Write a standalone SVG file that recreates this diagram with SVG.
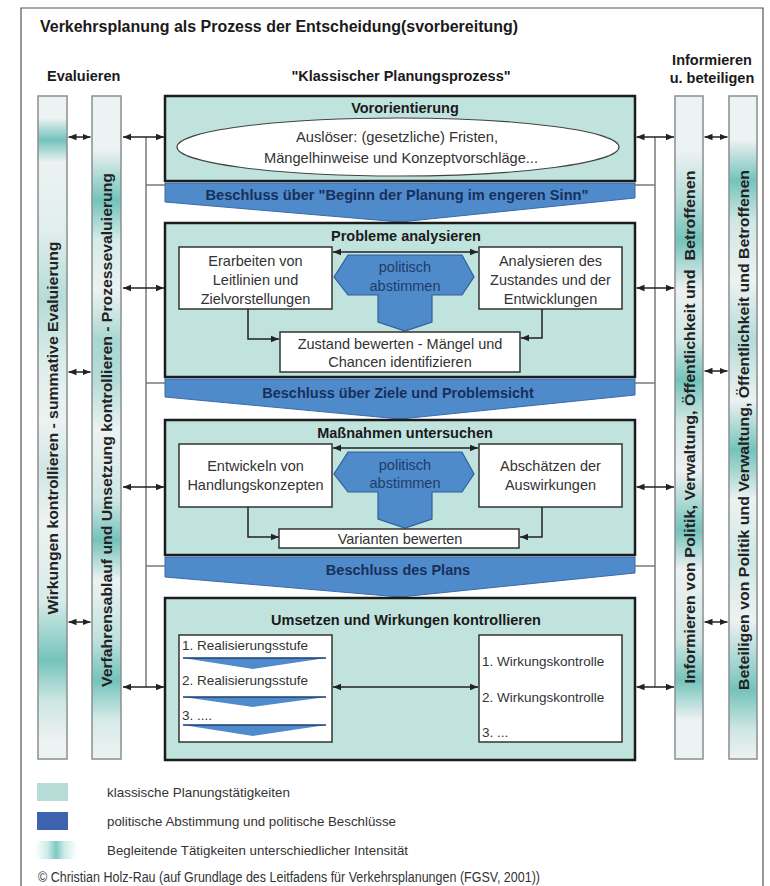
<svg xmlns="http://www.w3.org/2000/svg" width="770" height="886" viewBox="0 0 770 886">
<defs>
<style>
text{font-family:"Liberation Sans",Arial,Helvetica,sans-serif}
.h{font-weight:bold;font-size:14.5px;fill:#1a1a1a;text-anchor:middle}
.hl{font-weight:bold;font-size:14.5px;fill:#1a1a1a}
.r{font-size:14.5px;fill:#333;text-anchor:middle}
.rl{font-size:13.5px;fill:#333}
.bar{stroke:#8a8f8f;stroke-width:1.5}
.box{fill:#c1e3de;stroke:#1c1c1c;stroke-width:2.5}
.sub{fill:#fff;stroke:#333;stroke-width:1.5}
.chev{fill:#4f8acb;stroke:#3a6aa8;stroke-width:1}
.ct{font-weight:bold;font-size:14.5px;fill:#17305a;text-anchor:middle}
.hex{fill:#4f8acb;stroke:#2f5f99;stroke-width:1.2}
.ht{font-size:14.5px;fill:#1e3d68;text-anchor:middle}
.ar{stroke:#222;stroke-width:1.5;fill:none}
.gl{stroke:#7a7a7a;stroke-width:1.5;fill:none}
.vt{font-weight:bold;font-size:15px;fill:#222;text-anchor:middle}
.mini{fill:#4f8acb}
.miniTop{stroke:#1d3f70;stroke-width:1.5}
</style>
<marker id="ah" viewBox="0 0 10 10" refX="10" refY="5" markerWidth="8" markerHeight="8" markerUnits="userSpaceOnUse" orient="auto-start-reverse">
<path d="M0,1 L10,5 L0,9 z" fill="#222"/>
</marker>
<linearGradient id="g1" gradientUnits="userSpaceOnUse" x1="0" y1="96" x2="0" y2="759">
<stop offset="0" stop-color="#edf2f2"/><stop offset=".033" stop-color="#edf2f2"/><stop offset=".066" stop-color="#74c3bb"/><stop offset=".1" stop-color="#edf2f2"/><stop offset=".202" stop-color="#e0eeed"/><stop offset=".308" stop-color="#b5dcd7"/><stop offset=".398" stop-color="#dcecea"/><stop offset=".489" stop-color="#edf2f2"/><stop offset=".564" stop-color="#cfe7e4"/><stop offset=".64" stop-color="#edf2f2"/><stop offset=".76" stop-color="#d8ebe9"/><stop offset=".851" stop-color="#74c3bb"/><stop offset=".911" stop-color="#cbe6e2"/><stop offset=".971" stop-color="#edf2f2"/><stop offset="1" stop-color="#edf2f2"/>
</linearGradient>
<linearGradient id="g2" gradientUnits="userSpaceOnUse" x1="0" y1="96" x2="0" y2="759">
<stop offset="0" stop-color="#edf2f2"/><stop offset=".081" stop-color="#edf2f2"/><stop offset=".157" stop-color="#74c3bb"/><stop offset=".217" stop-color="#d6ebe8"/><stop offset=".293" stop-color="#edf2f2"/><stop offset=".368" stop-color="#a9d7d1"/><stop offset=".428" stop-color="#b5dcd7"/><stop offset=".504" stop-color="#edf2f2"/><stop offset=".609" stop-color="#cfe7e4"/><stop offset=".67" stop-color="#74c3bb"/><stop offset=".73" stop-color="#edf2f2"/><stop offset=".82" stop-color="#bfe2dd"/><stop offset=".881" stop-color="#74c3bb"/><stop offset=".941" stop-color="#d6ebe8"/><stop offset="1" stop-color="#edf2f2"/>
</linearGradient>
<linearGradient id="g3" gradientUnits="userSpaceOnUse" x1="0" y1="96" x2="0" y2="759">
<stop offset="0" stop-color="#edf2f2"/><stop offset=".081" stop-color="#edf2f2"/><stop offset=".157" stop-color="#b5dcd7"/><stop offset=".217" stop-color="#74c3bb"/><stop offset=".293" stop-color="#edf2f2"/><stop offset=".368" stop-color="#cfe7e4"/><stop offset=".428" stop-color="#74c3bb"/><stop offset=".489" stop-color="#cfe7e4"/><stop offset=".564" stop-color="#edf2f2"/><stop offset=".655" stop-color="#74c3bb"/><stop offset=".715" stop-color="#edf2f2"/><stop offset=".82" stop-color="#cfe7e4"/><stop offset=".881" stop-color="#74c3bb"/><stop offset=".941" stop-color="#edf2f2"/><stop offset="1" stop-color="#edf2f2"/>
</linearGradient>
<linearGradient id="g4" gradientUnits="userSpaceOnUse" x1="0" y1="96" x2="0" y2="759">
<stop offset="0" stop-color="#edf2f2"/><stop offset=".066" stop-color="#edf2f2"/><stop offset=".127" stop-color="#74c3bb"/><stop offset=".187" stop-color="#cfe7e4"/><stop offset=".278" stop-color="#edf2f2"/><stop offset=".368" stop-color="#b5dcd7"/><stop offset=".459" stop-color="#edf2f2"/><stop offset=".534" stop-color="#74c3bb"/><stop offset=".609" stop-color="#edf2f2"/><stop offset=".7" stop-color="#cfe7e4"/><stop offset=".79" stop-color="#edf2f2"/><stop offset=".896" stop-color="#74c3bb"/><stop offset=".956" stop-color="#cfe7e4"/><stop offset="1" stop-color="#edf2f2"/>
</linearGradient>
<linearGradient id="gl3" x1="0" y1="0" x2="1" y2="0">
<stop offset="0" stop-color="#ffffff"/><stop offset=".3" stop-color="#cdebe8"/><stop offset=".5" stop-color="#7ec9c2"/><stop offset=".7" stop-color="#cdebe8"/><stop offset="1" stop-color="#ffffff"/>
</linearGradient>
</defs>

<rect width="770" height="886" fill="#fff"/>
<path d="M21,886 V8 H763 V886" fill="none" stroke="#555" stroke-width="1.2"/>

<g id="titles">
<text x="40" y="32" style="font-weight:bold;font-size:16px;fill:#1a1a1a" textLength="478" lengthAdjust="spacingAndGlyphs">Verkehrsplanung als Prozess der Entscheidung(svorbereitung)</text>
<text x="47" y="81" class="hl">Evaluieren</text>
<text x="401" y="81" class="h">"Klassischer Planungsprozess"</text>
<text x="712" y="65" class="h">Informieren</text>
<text x="712" y="83" class="h">u. beteiligen</text>
</g>

<g id="bar-summative">
<rect x="38" y="96" width="29" height="663" fill="url(#g1)" class="bar"/>
<text transform="translate(58,428) rotate(-90)" class="vt" textLength="373" lengthAdjust="spacingAndGlyphs">Wirkungen kontrollieren - summative Evaluierung</text>
</g>
<g id="bar-prozess">
<rect x="92" y="96" width="29" height="663" fill="url(#g2)" class="bar"/>
<text transform="translate(112,430) rotate(-90)" class="vt" textLength="514" lengthAdjust="spacingAndGlyphs">Verfahrensablauf und Umsetzung kontrollieren - Prozessevaluierung</text>
</g>
<g id="bar-informieren">
<rect x="675" y="96" width="28" height="663" fill="url(#g3)" class="bar"/>
<text transform="translate(694.5,427) rotate(-90)" class="vt" textLength="513" lengthAdjust="spacingAndGlyphs" xml:space="preserve">Informieren von Politik, Verwaltung, Öffentlichkeit und  Betroffenen</text>
</g>
<g id="bar-beteiligen">
<rect x="729" y="96" width="28" height="663" fill="url(#g4)" class="bar"/>
<text transform="translate(748.5,430) rotate(-90)" class="vt" textLength="520" lengthAdjust="spacingAndGlyphs">Beteiligen von Politik und Verwaltung, Öffentlichkeit und Betroffenen</text>
</g>

<g id="connectors">
<path class="gl" d="M146,137 V687 M146,185 H165 M146,383 H165 M146,566 H165"/>
<path class="gl" d="M655,137 V687 M635,185 H655 M635,383 H655 M635,566 H655"/>
<line class="ar" x1="68.5" y1="137" x2="90.5" y2="137" marker-start="url(#ah)" marker-end="url(#ah)"/>
<line class="ar" x1="68.5" y1="372" x2="90.5" y2="372" marker-start="url(#ah)" marker-end="url(#ah)"/>
<line class="ar" x1="68.5" y1="622" x2="90.5" y2="622" marker-start="url(#ah)" marker-end="url(#ah)"/>
<line class="ar" x1="704.5" y1="137" x2="727.5" y2="137" marker-start="url(#ah)" marker-end="url(#ah)"/>
<line class="ar" x1="704.5" y1="371" x2="727.5" y2="371" marker-start="url(#ah)" marker-end="url(#ah)"/>
<line class="ar" x1="704.5" y1="622" x2="727.5" y2="622" marker-start="url(#ah)" marker-end="url(#ah)"/>
<line class="ar" x1="123" y1="137" x2="164" y2="137" marker-start="url(#ah)" marker-end="url(#ah)"/>
<line class="ar" x1="123" y1="288" x2="164" y2="288" marker-start="url(#ah)" marker-end="url(#ah)"/>
<line class="ar" x1="123" y1="487" x2="164" y2="487" marker-start="url(#ah)" marker-end="url(#ah)"/>
<line class="ar" x1="123" y1="687" x2="164" y2="687" marker-start="url(#ah)" marker-end="url(#ah)"/>
<line class="ar" x1="636.5" y1="137" x2="674" y2="137" marker-start="url(#ah)" marker-end="url(#ah)"/>
<line class="ar" x1="636.5" y1="288" x2="674" y2="288" marker-start="url(#ah)" marker-end="url(#ah)"/>
<line class="ar" x1="636.5" y1="487" x2="674" y2="487" marker-start="url(#ah)" marker-end="url(#ah)"/>
<line class="ar" x1="636.5" y1="687" x2="674" y2="687" marker-start="url(#ah)" marker-end="url(#ah)"/>
</g>

<g id="vororientierung">
<rect x="165" y="96" width="470" height="85" class="box"/>
<text x="405" y="113" class="h">Vororientierung</text>
<ellipse cx="398" cy="147" rx="221" ry="29" fill="#fff" stroke="#444" stroke-width="1.2"/>
<text x="397" y="142" class="r" textLength="202" lengthAdjust="spacingAndGlyphs">Auslöser: (gesetzliche) Fristen,</text>
<text x="401" y="163" class="r" textLength="274" lengthAdjust="spacingAndGlyphs">Mängelhinweise und Konzeptvorschläge...</text>
</g>

<g id="beschluss-beginn">
<polygon points="165,183 635,183 635,198 400,222 165,202" class="chev"/>
<text x="397" y="200" class="ct" textLength="383" lengthAdjust="spacingAndGlyphs">Beschluss über "Beginn der Planung im engeren Sinn"</text>
</g>

<g id="probleme">
<rect x="165" y="223" width="470" height="154" class="box"/>
<text x="406" y="241" class="h">Probleme analysieren</text>
</g>
<g id="erarbeiten">
<rect x="179" y="247" width="153" height="62" class="sub"/>
<text x="255.5" y="266" class="r">Erarbeiten von</text>
<text x="255.5" y="285" class="r">Leitlinien und</text>
<text x="255.5" y="304" class="r">Zielvorstellungen</text>
</g>
<g id="analysieren">
<rect x="479" y="247" width="143" height="62" class="sub"/>
<text x="550.5" y="266" class="r">Analysieren des</text>
<text x="550.5" y="285" class="r">Zustandes und der</text>
<text x="550.5" y="304" class="r">Entwicklungen</text>
</g>
<g id="connectors-probleme">
<line class="ar" x1="333" y1="252" x2="478" y2="252" marker-start="url(#ah)" marker-end="url(#ah)"/>
<path class="ar" d="M248,309 V339 H279" marker-end="url(#ah)"/>
<path class="ar" d="M542,309 V338 H521" marker-end="url(#ah)"/>
</g>
<g id="abstimmen-1">
<polygon points="348,255 462,255 474,277 462,295 432,295 432,322 405,331 378,322 378,295 348,295 334,277" class="hex"/>
<text x="405" y="272" class="ht">politisch</text>
<text x="405" y="291" class="ht">abstimmen</text>
</g>
<g id="zustand">
<rect x="280" y="332" width="240" height="40" class="sub"/>
<text x="400" y="349" class="r">Zustand bewerten - Mängel und</text>
<text x="400" y="367" class="r">Chancen identifizieren</text>
</g>

<g id="beschluss-ziele">
<polygon points="165,379 635,379 635,395 400,419 165,397" class="chev"/>
<text x="398" y="398" class="ct">Beschluss über Ziele und Problemsicht</text>
</g>

<g id="massnahmen">
<rect x="165" y="420" width="470" height="135" class="box"/>
<text x="405" y="438" class="h">Maßnahmen untersuchen</text>
</g>
<g id="entwickeln">
<rect x="179" y="444" width="153" height="63" class="sub"/>
<text x="255.5" y="471" class="r">Entwickeln von</text>
<text x="255.5" y="490" class="r">Handlungskonzepten</text>
</g>
<g id="abschaetzen">
<rect x="479" y="444" width="143" height="63" class="sub"/>
<text x="550.5" y="471" class="r">Abschätzen der</text>
<text x="550.5" y="490" class="r">Auswirkungen</text>
</g>
<g id="connectors-massnahmen">
<line class="ar" x1="333" y1="448" x2="478" y2="448" marker-start="url(#ah)" marker-end="url(#ah)"/>
<path class="ar" d="M248,507 V537 H279" marker-end="url(#ah)"/>
<path class="ar" d="M542,507 V537 H520" marker-end="url(#ah)"/>
</g>
<g id="abstimmen-2">
<polygon points="348,452 462,452 474,474 462,492 432,492 432,519 405,528 378,519 378,492 348,492 334,474" class="hex"/>
<text x="405" y="470" class="ht">politisch</text>
<text x="405" y="488" class="ht">abstimmen</text>
</g>
<g id="varianten">
<rect x="279" y="529" width="240" height="19" class="sub"/>
<text x="400" y="544" class="r">Varianten bewerten</text>
</g>

<g id="beschluss-plan">
<polygon points="165,557 635,557 635,573 400,597 165,577" class="chev"/>
<text x="398" y="575" class="ct">Beschluss des Plans</text>
</g>

<g id="umsetzen">
<rect x="165" y="598" width="470" height="162" class="box"/>
<text x="406" y="625" class="h">Umsetzen und Wirkungen kontrollieren</text>
</g>
<g id="realisierung">
<rect x="179" y="635" width="153" height="107" class="sub"/>
<text x="182" y="650" class="rl">1. Realisierungsstufe</text>
<polygon points="183,658 326,658 253,669" class="mini"/>
<line x1="183" y1="658" x2="326" y2="658" class="miniTop"/>
<text x="182" y="685" class="rl">2. Realisierungsstufe</text>
<polygon points="183,697 326,697 253,707" class="mini"/>
<line x1="183" y1="697" x2="326" y2="697" class="miniTop"/>
<text x="182" y="720" class="rl">3. ....</text>
<polygon points="183,725 326,725 253,736" class="mini"/>
<line x1="183" y1="725" x2="326" y2="725" class="miniTop"/>
</g>
<g id="wirkungskontrolle">
<rect x="479" y="635" width="143" height="107" class="sub"/>
<text x="482" y="666" class="rl">1. Wirkungskontrolle</text>
<text x="482" y="702" class="rl">2. Wirkungskontrolle</text>
<text x="482" y="737" class="rl">3. ...</text>
</g>
<g id="connectors-umsetzen">
<line class="ar" x1="333" y1="687" x2="478" y2="687" marker-start="url(#ah)" marker-end="url(#ah)"/>
</g>

<g id="legend">
<rect x="37" y="783" width="31" height="18" fill="#b8dcd8"/>
<text x="107" y="797" class="rl" textLength="183" lengthAdjust="spacingAndGlyphs">klassische Planungstätigkeiten</text>
<rect x="37" y="812" width="31" height="18" fill="#3d63b0"/>
<text x="107" y="826" class="rl" textLength="289" lengthAdjust="spacingAndGlyphs">politische Abstimmung und politische Beschlüsse</text>
<rect x="35" y="841" width="42" height="18" fill="url(#gl3)"/>
<text x="107" y="855" class="rl" textLength="301" lengthAdjust="spacingAndGlyphs">Begleitende Tätigkeiten unterschiedlicher Intensität</text>
<text x="38" y="882" style="font-size:14px;fill:#333" textLength="502" lengthAdjust="spacingAndGlyphs">© Christian Holz-Rau (auf Grundlage des Leitfadens für Verkehrsplanungen (FGSV, 2001))</text>
</g>
</svg>
